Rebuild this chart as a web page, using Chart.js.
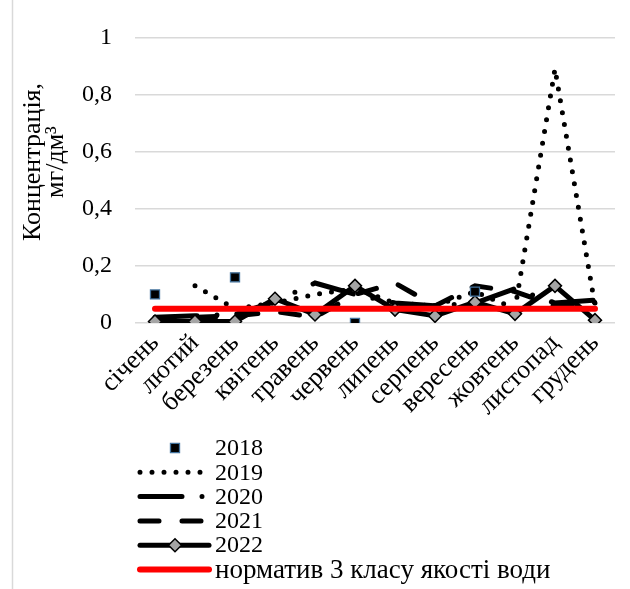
<!DOCTYPE html>
<html>
<head>
<meta charset="utf-8">
<script src="https://cdn.jsdelivr.net/npm/chart.js@4/dist/chart.umd.min.js"></script>
<style>
  html, body { margin: 0; padding: 0; background: #fff; }
  #wrap { width: 630px; height: 589px; position: relative; }
</style>
</head>
<body>
<div id="wrap"><canvas id="c" width="630" height="589"></canvas></div>
<script>
// Monthly concentrations, mg/dm³
const months = ['січень', 'лютий', 'березень', 'квітень', 'травень', 'червень',
                'липень', 'серпень', 'вересень', 'жовтень', 'листопад', 'грудень'];
const yTickValues = [0, 0.2, 0.4, 0.6, 0.8, 1];
const yTitleLines = ['Концентрація,', 'мг/дм³'];

const v2018 = [0.1, null, 0.16, null, null, 0, null, null, 0.11, null, null, null];
const v2019 = [null, 0.13, 0.05, 0.07, 0.1, 0.12, 0.07, 0.06, 0.11, 0.05, 0.89, 0.06];
const v2020 = [0.02, 0.025, 0.03, 0.075, 0.14, 0.1, 0.07, 0.06, 0.07, 0.12, 0.07, 0.08];
const v2021 = [0.015, 0.02, 0.025, 0.04, 0.02, 0.1, 0.14, 0.06, 0.13, 0.11, 0.06, 0.07];
const v2022 = [0.005, 0.005, 0.005, 0.085, 0.03, 0.13, 0.047, 0.025, 0.073, 0.032, 0.13, 0.01];
const normLevel = [0.05, 0.05, 0.05, 0.05, 0.05, 0.05, 0.05, 0.05, 0.05, 0.05, 0.05, 0.05];

const FONT = '"Liberation Serif", "Times New Roman", serif';
const FS_NUM = 24;   // digits: axis ticks, years
const FS_TXT = 26;   // words: month names, axis title
const FS_CAP = 27;   // legend caption of the norm line

const datasets = [
  { label: '2018', data: v2018, showLine: false, order: 0,
    pointStyle: 'rect', pointRadius: 6.4, pointBackgroundColor: '#000',
    pointBorderColor: '#41719c', pointBorderWidth: 1.3, borderColor: '#000' },
  { label: '2019', data: v2019, order: 5, borderColor: '#000', borderWidth: 5,
    borderDash: [0, 12], borderCapStyle: 'round', pointRadius: 0 },
  { label: '2020', data: v2020, order: 4, borderColor: '#000', borderWidth: 5,
    borderDash: [42, 20, 0, 20], borderCapStyle: 'round', pointRadius: 0 },
  { label: '2021', data: v2021, order: 3, borderColor: '#000', borderWidth: 5,
    borderDash: [19, 23], borderCapStyle: 'round', pointRadius: 0 },
  { label: '2022', data: v2022, order: 2, borderColor: '#000', borderWidth: 5,
    borderCapStyle: 'round', borderJoinStyle: 'round',
    pointStyle: 'rectRot', pointRadius: 6.5, pointBackgroundColor: '#a5a5a5',
    pointBorderColor: '#000', pointBorderWidth: 1.5 },
  { label: 'норматив 3 класу якості води', data: normLevel, order: 1,
    borderColor: '#ff0000', borderWidth: 6, borderCapStyle: 'round', pointRadius: 0 }
];

// White background and the left edge of the chart frame
const framePlugin = {
  id: 'frame',
  beforeDraw(chart) {
    const ctx = chart.ctx;
    ctx.save();
    ctx.fillStyle = '#fff';
    ctx.fillRect(0, 0, chart.width, chart.height);
    ctx.strokeStyle = '#d9d9d9';
    ctx.lineWidth = 1.5;
    ctx.beginPath();
    ctx.moveTo(12.5, 0);
    ctx.lineTo(12.5, chart.height);
    ctx.stroke();
    ctx.restore();
  }
};

// Rotated two-line title of the value axis
const yTitlePlugin = {
  id: 'yTitle',
  afterDraw(chart) {
    const ctx = chart.ctx;
    ctx.save();
    ctx.fillStyle = '#000';
    ctx.font = FS_TXT + 'px ' + FONT;
    ctx.textAlign = 'center';
    ctx.textBaseline = 'middle';
    const cy = 162;
    const xs = [33, 56];
    yTitleLines.forEach((t, i) => {
      ctx.save();
      ctx.translate(xs[i], cy);
      ctx.rotate(-Math.PI / 2);
      ctx.fillText(t, 0, 0);
      ctx.restore();
    });
    ctx.restore();
  }
};

// Single-column legend under the axis, each sample drawn with its dataset's style
const legendPlugin = {
  id: 'columnLegend',
  afterDraw(chart) {
    const ctx = chart.ctx;
    const x0 = 140, x1 = 209, tx = 215;
    const y0 = 448, step = 24.3;
    chart.data.datasets.forEach((ds, i) => {
      const y = y0 + i * step;
      ctx.save();
      if (ds.showLine !== false) {
        ctx.strokeStyle = ds.borderColor;
        ctx.lineWidth = ds.borderWidth;
        ctx.lineCap = ds.borderCapStyle || 'butt';
        ctx.setLineDash(ds.borderDash || []);
        ctx.beginPath();
        ctx.moveTo(x0, y);
        ctx.lineTo(x1, y);
        ctx.stroke();
        ctx.setLineDash([]);
      }
      if (ds.pointRadius > 0) {
        ctx.fillStyle = ds.pointBackgroundColor;
        ctx.strokeStyle = ds.pointBorderColor;
        ctx.lineWidth = ds.pointBorderWidth;
        Chart.helpers.drawPoint(ctx, {
          pointStyle: ds.pointStyle, radius: ds.pointRadius, rotation: 0,
          borderWidth: ds.pointBorderWidth
        }, 175, y);
      }
      const isYear = /^\d+$/.test(ds.label);
      ctx.fillStyle = '#000';
      ctx.font = (isYear ? FS_NUM : FS_CAP) + 'px ' + FONT;
      ctx.textAlign = 'left';
      ctx.textBaseline = 'middle';
      ctx.fillText(ds.label, tx, y + 1);
      ctx.restore();
    });
  }
};

new Chart(document.getElementById('c'), {
  type: 'line',
  data: { labels: months, datasets },
  plugins: [framePlugin, yTitlePlugin, legendPlugin],
  options: {
    responsive: false,
    animation: false,
    layout: { padding: { top: 37, right: 15, bottom: 166, left: 0 } },
    elements: { line: { tension: 0 } },
    plugins: {
      legend: { display: false },
      tooltip: { enabled: false }
    },
    scales: {
      x: {
        offset: true,
        grid: { display: false, drawTicks: false },
        border: { display: false },
        ticks: {
          color: '#000', font: { family: FONT, size: FS_TXT },
          minRotation: 45, maxRotation: 45, padding: 5, autoSkip: false
        },
        afterFit(scale) { scale.height = 100; }
      },
      y: {
        min: 0, max: 1,
        grid: { color: '#d9d9d9', lineWidth: 1.5, drawTicks: false },
        border: { display: false },
        afterBuildTicks(scale) { scale.ticks = yTickValues.map(v => ({ value: v })); },
        ticks: {
          color: '#000', font: { family: FONT, size: FS_NUM }, padding: 23,
          callback: (v) => String(v).replace('.', ',')
        },
        afterFit(scale) { scale.width = 135; }
      }
    }
  }
});
</script>
</body>
</html>
